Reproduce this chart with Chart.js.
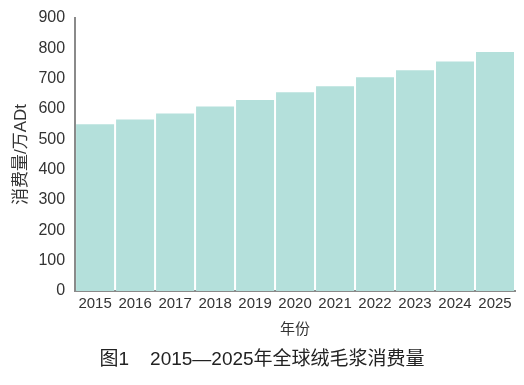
<!DOCTYPE html>
<html>
<head>
<meta charset="utf-8">
<script src="https://cdn.jsdelivr.net/npm/chart.js@4/dist/chart.umd.min.js"></script>
<style>
  html, body { margin: 0; padding: 0; background: #fff; }
  #wrap { position: relative; width: 524px; height: 385px; }
  #caption {
    position: absolute; left: 0; width: 524px; top: 343px;
    text-align: center; font: 19px "Liberation Sans", "Noto Sans CJK SC", sans-serif;
    color: #222; white-space: pre;
  }
</style>
</head>
<body>
<div id="wrap">
  <canvas id="chart" width="524" height="385"></canvas>
  <div id="caption">图1    2015—2025年全球绒毛浆消费量</div>
</div>
<script>
const years = ['2015', '2016', '2017', '2018', '2019', '2020', '2021', '2022', '2023', '2024', '2025'];
const consumption = [550, 565, 585, 608, 630, 655, 675, 705, 728, 757, 788];
const yTitle = '消费量/万ADt';
const xTitle = '年份';

const fontFamily = '"Liberation Sans", "Noto Sans CJK SC", sans-serif';

new Chart(document.getElementById('chart'), {
    type: 'bar',
    data: {
        labels: years,
        datasets: [{
            data: consumption,
            backgroundColor: '#b4e0db',
            borderWidth: 0,
            barPercentage: 0.95,
            categoryPercentage: 1.0
        }]
    },
    options: {
        responsive: false,
        animation: false,
        layout: { padding: { left: 7, right: 9, top: 18, bottom: 42 } },
        plugins: { legend: { display: false }, tooltip: { enabled: false } },
        scales: {
            x: {
                grid: { display: false },
                border: { display: true, color: '#8a8a8a', width: 2 },
                ticks: { color: '#333', font: { family: fontFamily, size: 15 }, padding: -4, maxRotation: 0 },
                title: { display: true, text: xTitle, color: '#333', font: { family: fontFamily, size: 15 }, padding: { top: 12 } }
            },
            y: {
                min: 0,
                max: 900,
                grid: { display: false },
                border: { display: true, color: '#8a8a8a', width: 2 },
                ticks: { stepSize: 100, color: '#333', font: { family: fontFamily, size: 16 }, padding: 2 },
                title: { display: true, text: yTitle, color: '#333', font: { family: fontFamily, size: 17 }, padding: { bottom: 5 } }
            }
        }
    }
});
</script>
</body>
</html>
